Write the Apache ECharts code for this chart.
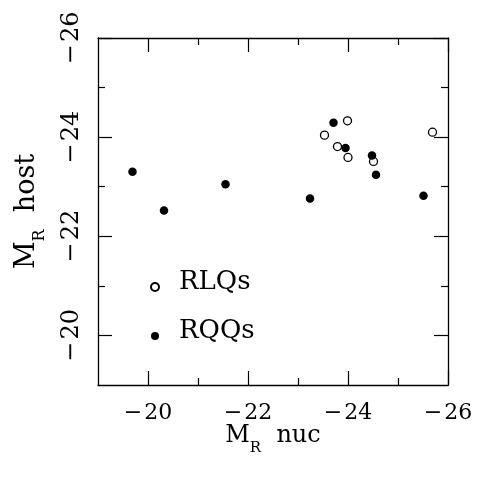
<!DOCTYPE html>
<html>
<head>
<meta charset="utf-8">
<script src="https://cdn.jsdelivr.net/npm/echarts@6/dist/echarts.min.js"></script>
<style>
html,body{margin:0;padding:0;background:#fff;}
#c{width:480px;height:488px;}
</style>
</head>
<body>
<div id="c"></div>
<script>
// Data
var rlqNuc  = [-23.99, -23.53, -25.69, -23.79, -24.00, -24.51];
var rlqHost = [-24.33, -24.04, -24.10, -23.81, -23.59, -23.51];
var rqqNuc  = [-23.71, -23.95, -24.48, -19.69, -20.32, -21.55, -23.24, -24.56, -25.51];
var rqqHost = [-24.29, -23.78, -23.63, -23.30, -22.52, -23.05, -22.76, -23.24, -22.82];
var majorTicks = [-26, -24, -22, -20];
var minorTicks = [-25, -23, -21];
var seriesNames = ['RLQs', 'RQQs'];

var FONT = 'DejaVu Serif';
var INK = '#000';

function pairs(xs, ys) { return xs.map(function (x, i) { return [x, ys[i]]; }); }
function fmt(v) { return String(v).replace('-', '\u2212\u200a'); }

function axisBase(extra) {
  var a = {
    type: 'value', min: -26, max: -19, interval: 1, inverse: true,
    splitLine: { show: false },
    axisLine: { show: true, onZero: false, lineStyle: { color: INK, width: 1.3 } },
    axisTick: { show: true, inside: true, length: 14, customValues: majorTicks, lineStyle: { color: INK, width: 1.2 } },
    axisLabel: { show: false }
  };
  for (var k in extra) a[k] = extra[k];
  return a;
}
function minorAxis(pos) {
  return axisBase({
    position: pos,
    axisLine: { show: false, onZero: false },
    axisTick: { show: true, inside: true, length: 7, customValues: minorTicks, lineStyle: { color: INK, width: 1.2 } }
  });
}

var chart = echarts.init(document.getElementById('c'), null, { renderer: 'canvas' });
chart.setOption({
  backgroundColor: '#fff',
  animation: false,
  grid: { left: 98, right: 32, top: 38, bottom: 103, containLabel: false },
  legend: {
    data: seriesNames,
    orient: 'vertical',
    left: 145, top: 264,
    itemWidth: 8, itemHeight: 8, itemGap: 13,
    icon: 'circle',
    formatter: '{t|{name}}',
    textStyle: {
      color: INK,
      rich: { t: { fontFamily: FONT, fontSize: 26, lineHeight: 26, color: INK, padding: [0, 0, 10, 15] } }
    }
  },
  xAxis: [
    axisBase({
      position: 'bottom',
      axisLabel: { show: true, customValues: majorTicks, formatter: fmt, margin: 17,
        fontFamily: FONT, fontSize: 22, color: INK },
      name: '{m|M}{s|R}{m|  nuc}',
      nameLocation: 'middle', nameGap: 39, nameMoveOverlap: false,
      nameTextStyle: {
        rich: {
          m: { fontFamily: FONT, fontSize: 24, lineHeight: 24, color: INK, verticalAlign: 'top' },
          s: { fontFamily: FONT, fontSize: 15, lineHeight: 15, color: INK, verticalAlign: 'top', padding: [17, 0, 0, 0] }
        }
      }
    }),
    axisBase({ position: 'top' }),
    minorAxis('bottom'),
    minorAxis('top')
  ],
  yAxis: [
    axisBase({
      position: 'left',
      axisLabel: { show: true, customValues: majorTicks, formatter: fmt, margin: 14, rotate: 90,
        fontFamily: FONT, fontSize: 24, color: INK },
      name: '{m|M}{s|R}{m|  host}',
      nameLocation: 'middle', nameGap: 58, nameRotate: 90, nameMoveOverlap: false,
      nameTextStyle: {
        rich: {
          m: { fontFamily: FONT, fontSize: 27, lineHeight: 27, color: INK, verticalAlign: 'top' },
          s: { fontFamily: FONT, fontSize: 16, lineHeight: 16, color: INK, verticalAlign: 'top', padding: [19, 0, 0, 0] }
        }
      }
    }),
    axisBase({ position: 'right' }),
    minorAxis('left'),
    minorAxis('right')
  ],
  series: [
    {
      name: seriesNames[0], type: 'scatter', xAxisIndex: 0, yAxisIndex: 0,
      symbol: 'circle', symbolSize: 8,
      itemStyle: { color: '#fff', borderColor: INK, borderWidth: 1.3, opacity: 1 },
      data: pairs(rlqNuc, rlqHost)
    },
    {
      name: seriesNames[1], type: 'scatter', xAxisIndex: 0, yAxisIndex: 0,
      symbol: 'circle', symbolSize: 8.5,
      itemStyle: { color: INK, opacity: 1 },
      data: pairs(rqqNuc, rqqHost)
    }
  ]
});
</script>
</body>
</html>
